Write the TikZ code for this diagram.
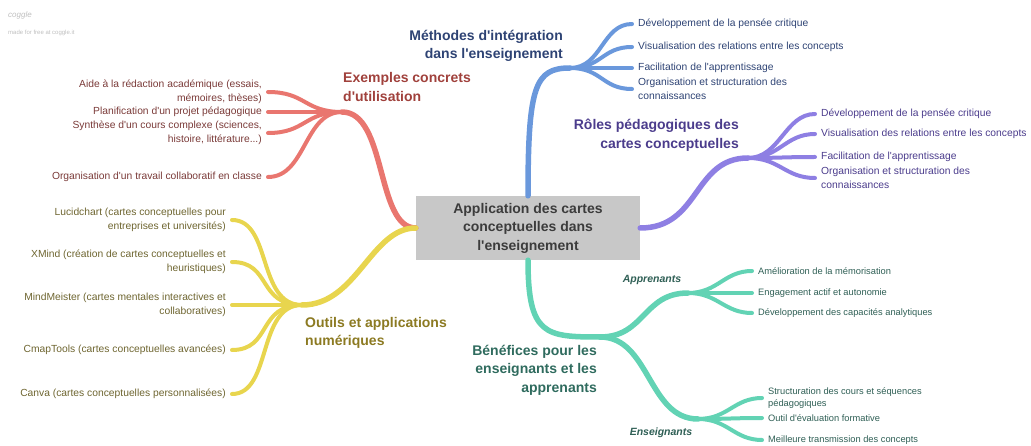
\documentclass[tikz,border=0pt]{standalone}
\usepackage{fontspec}
\setmainfont{Liberation Sans}
\newfontfamily\lsf{Liberation Sans}
\definecolor{cBlueL}{HTML}{6A98DC}\definecolor{cBlueT}{HTML}{2E4374}
\definecolor{cRedL}{HTML}{E9766F}\definecolor{cRedT}{HTML}{A0413C}\definecolor{cRedS}{HTML}{7A3A38}
\definecolor{cYelL}{HTML}{E8D54E}\definecolor{cYelT}{HTML}{8C7A22}\definecolor{cYelS}{HTML}{6E6530}
\definecolor{cPurL}{HTML}{8E7FE3}\definecolor{cPurT}{HTML}{4B3C8C}
\definecolor{cGrnL}{HTML}{62D3B4}\definecolor{cGrnT}{HTML}{2F6B5E}\definecolor{cGrnS}{HTML}{2F5F55}
\definecolor{cBox}{HTML}{C8C8C8}\definecolor{cBoxT}{HTML}{3C3C3C}
\begin{document}
\begin{tikzpicture}[x=1pt,y=-1pt,
  trunk/.style={line width=5.5pt,line cap=round},
  twig/.style={line width=4pt,line cap=round},
  leafR/.style={anchor=west,align=left,font=\lsf\fontsize{10.3}{13.5}\selectfont,inner xsep=6pt,inner ysep=0pt},
  leafL/.style={anchor=east,align=right,font=\lsf\fontsize{10.3}{13.5}\selectfont,inner xsep=6pt,inner ysep=0pt},
  leafS/.style={anchor=west,align=left,font=\lsf\fontsize{9.3}{12.5}\selectfont,inner xsep=6pt,inner ysep=0pt},
  head/.style={font=\lsf\fontsize{14}{18.5}\selectfont\bfseries,inner sep=0pt},
  sub/.style={font=\lsf\fontsize{10.5}{13}\selectfont\bfseries\itshape,inner sep=0pt,text=cGrnS}]
\useasboundingbox (0,0) rectangle (1031,446);

% logo
\node[anchor=west,inner sep=0pt,text=black!25,font=\lsf\fontsize{8}{9}\selectfont\itshape] (logo) at (8,15) {coggle};
\node[anchor=west,inner sep=0pt,text=black!25,font=\lsf\fontsize{6}{7}\selectfont] (logo2) at (8,33) {made for free at coggle.it};

% centre
\node[fill=cBox,minimum width=224pt,minimum height=64pt,inner sep=0pt,align=center,
  text=cBoxT,font=\lsf\fontsize{14}{18.5}\selectfont\bfseries] (root) at (528,228)
  {Application des cartes\\conceptuelles dans\\l'enseignement};

% junctions
\coordinate (jB) at (570,68);
\coordinate (jR) at (342,112);
\coordinate (jP) at (748,158);
\coordinate (jY) at (302,305);
\coordinate (jG) at (600,337);
\coordinate (jGA) at (688,293);
\coordinate (jGE) at (698,419);

% headers
\node[head,anchor=east,align=right,text=cBlueT] (hB) at (563,46) {Méthodes d'intégration\\dans l'enseignement};
\node[head,anchor=west,align=left,text=cRedT] (hR) at (343,87) {Exemples concrets\\d'utilisation};
\node[head,anchor=east,align=right,text=cPurT] (hP) at (739,135) {Rôles pédagogiques des\\cartes conceptuelles};
\node[head,anchor=west,align=left,text=cYelT] (hY) at (305,333) {Outils et applications\\numériques};
\node[head,anchor=east,align=right,text=cGrnT] (hG) at (597,370) {Bénéfices pour les\\enseignants et les\\apprenants};
\node[sub] (hGA) at (652,280) {Apprenants};
\node[sub] (hGE) at (661,433) {Enseignants};

% trunks
\draw[trunk,cBlueL] (root.north) .. controls +(0,-110) and +(-35,0) .. (jB);
\draw[trunk,cPurL] (root.east) .. controls +(60,0) and +(-55,0) .. (jP);
\draw[trunk,cRedL] (root.west) .. controls +(-40,0) and +(45,0) .. (jR);
\draw[trunk,cYelL] (root.west) .. controls +(-45,0) and +(55,0) .. (jY);
\draw[trunk,cGrnL] (root.south) .. controls +(0,75) and +(-55,0) .. (jG);
\draw[trunk,cGrnL] (jG) .. controls +(45,0) and +(-45,0) .. (jGA);
\draw[trunk,cGrnL] (jG) .. controls +(50,0) and +(-50,0) .. (jGE);

% blue leaves
\node[leafR,text=cBlueT] (b1) at (632,24) {Développement de la pensée critique};
\node[leafR,text=cBlueT] (b2) at (632,47) {Visualisation des relations entre les concepts};
\node[leafR,text=cBlueT] (b3) at (632,68) {Facilitation de l'apprentissage};
\node[leafR,text=cBlueT] (b4) at (632,89) {Organisation et structuration des\\connaissances};
\foreach \n in {b1,b2,b3,b4}
  \draw[twig,cBlueL] (jB) .. controls +(32,0) and +(-30,0) .. (\n.west);

% purple leaves
\node[leafR,text=cPurT] (p1) at (815,114) {Développement de la pensée critique};
\node[leafR,text=cPurT] (p2) at (815,134) {Visualisation des relations entre les concepts};
\node[leafR,text=cPurT] (p3) at (815,157) {Facilitation de l'apprentissage};
\node[leafR,text=cPurT] (p4) at (815,178) {Organisation et structuration des\\connaissances};
\foreach \n in {p1,p2,p3,p4}
  \draw[twig,cPurL] (jP) .. controls +(32,0) and +(-30,0) .. (\n.west);

% red leaves
\node[leafL,text=cRedS] (r1) at (268,92) {Aide à la rédaction académique (essais,\\mémoires, thèses)};
\node[leafL,text=cRedS] (r2) at (268,112) {Planification d'un projet pédagogique};
\node[leafL,text=cRedS] (r3) at (268,133) {Synthèse d'un cours complexe (sciences,\\histoire, littérature...)};
\node[leafL,text=cRedS] (r4) at (268,177) {Organisation d'un travail collaboratif en classe};
\foreach \n in {r1,r2,r3,r4}
  \draw[twig,cRedL] (jR) .. controls +(-38,0) and +(38,0) .. (\n.east);

% yellow leaves
\node[leafL,text=cYelS] (y1) at (232,220) {Lucidchart (cartes conceptuelles pour\\entreprises et universités)};
\node[leafL,text=cYelS] (y2) at (232,262) {XMind (création de cartes conceptuelles et\\heuristiques)};
\node[leafL,text=cYelS] (y3) at (232,305) {MindMeister (cartes mentales interactives et\\collaboratives)};
\node[leafL,text=cYelS] (y4) at (232,350) {CmapTools (cartes conceptuelles avancées)};
\node[leafL,text=cYelS] (y5) at (232,394) {Canva (cartes conceptuelles personnalisées)};
\foreach \n in {y1,y2,y3,y4,y5}
  \draw[twig,cYelL] (jY) .. controls +(-45,0) and +(40,0) .. (\n.east);

% green leaves (apprenants)
\node[leafS,text=cGrnS] (ga1) at (752,271) {Amélioration de la mémorisation};
\node[leafS,text=cGrnS] (ga2) at (752,293) {Engagement actif et autonomie};
\node[leafS,text=cGrnS] (ga3) at (752,313) {Développement des capacités analytiques};
\foreach \n in {ga1,ga2,ga3}
  \draw[twig,cGrnL] (jGA) .. controls +(30,0) and +(-28,0) .. (\n.west);

% green leaves (enseignants)
\node[leafS,text=cGrnS] (ge1) at (762,398) {Structuration des cours et séquences\\pédagogiques};
\node[leafS,text=cGrnS] (ge2) at (762,418) {Outil d'évaluation formative};
\node[leafS,text=cGrnS] (ge3) at (762,440) {Meilleure transmission des concepts};
\foreach \n in {ge1,ge2,ge3}
  \draw[twig,cGrnL] (jGE) .. controls +(30,0) and +(-28,0) .. (\n.west);
\end{tikzpicture}
\end{document}
